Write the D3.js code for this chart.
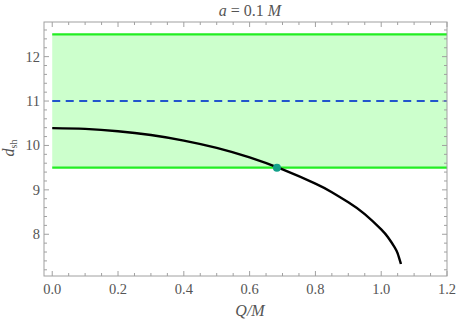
<!DOCTYPE html>
<html><head><meta charset="utf-8">
<script src="https://cdn.jsdelivr.net/npm/d3@7"></script>
<style>body{margin:0;background:#fff}svg{display:block}</style>
</head><body>
<script>
const qValues = [0, 0.1, 0.2, 0.3, 0.4, 0.5, 0.6, 0.7, 0.8, 0.85, 0.9, 0.95, 1.0, 1.02, 1.04, 1.05, 1.06];
const dValues = [10.39, 10.373, 10.321, 10.234, 10.109, 9.944, 9.73, 9.46, 9.14, 8.947, 8.72, 8.455, 8.11, 7.937, 7.718, 7.569, 7.33];
const bandLow = 9.5, bandHigh = 12.5, dashedLevel = 11;
const bandQ = [0, 1.2];
const crossing = [0.683, 9.5];
const xTicks = [0, 0.2, 0.4, 0.6, 0.8, 1.0, 1.2];
const yTicks = [8, 9, 10, 11, 12];

const W = 458, H = 323;
const m = {l:44, r:11, t:22, b:47};
const FONT = "'Liberation Serif', 'Times New Roman', serif";
const svg = d3.select("body").append("svg").attr("width", W).attr("height", H);
const x = d3.scaleLinear().domain([-0.025, 1.2]).range([m.l, W - m.r]);
const y = d3.scaleLinear().domain([7.06, 12.78]).range([H - m.b, m.t]);

svg.append("rect").attr("x", x(bandQ[0])).attr("y", y(bandHigh))
  .attr("width", x(bandQ[1]) - x(bandQ[0])).attr("height", y(bandLow) - y(bandHigh))
  .attr("fill", "#ccffcc");
[bandLow, bandHigh].forEach(v => svg.append("line")
  .attr("x1", x(bandQ[0])).attr("x2", x(bandQ[1])).attr("y1", y(v)).attr("y2", y(v))
  .attr("stroke", "#22ee22").attr("stroke-width", 2.2));
svg.append("line").attr("x1", x(bandQ[0])).attr("x2", x(bandQ[1]))
  .attr("y1", y(dashedLevel)).attr("y2", y(dashedLevel))
  .attr("stroke", "#2255cc").attr("stroke-width", 2).attr("stroke-dasharray", "8,5.5");

const pts = qValues.map((q, i) => [q, dValues[i]]);
svg.append("path").datum(pts)
  .attr("d", d3.line().x(d => x(d[0])).y(d => y(d[1])).curve(d3.curveNatural))
  .attr("fill", "none").attr("stroke", "#000").attr("stroke-width", 2.4);
svg.append("circle").attr("cx", x(crossing[0])).attr("cy", y(crossing[1])).attr("r", 4)
  .attr("fill", "#12a08a");

const fc = "#a0a0a0";
svg.append("rect").attr("x", m.l).attr("y", m.t).attr("width", W - m.r - m.l).attr("height", H - m.b - m.t)
  .attr("fill", "none").attr("stroke", fc).attr("stroke-width", 1);
const g = svg.append("g").attr("stroke", fc).attr("stroke-width", 1);
d3.range(0, 1.2001, 0.05).forEach(v => {
  const major = Math.abs(v / 0.2 - Math.round(v / 0.2)) < 1e-6;
  const L = major ? 5 : 3;
  g.append("line").attr("x1", x(v)).attr("x2", x(v)).attr("y1", H - m.b).attr("y2", H - m.b - L);
  g.append("line").attr("x1", x(v)).attr("x2", x(v)).attr("y1", m.t).attr("y2", m.t + L);
});
d3.range(7.2, 12.7, 0.2).forEach(v => {
  const major = Math.abs(v - Math.round(v)) < 1e-6;
  const L = major ? 5 : 3;
  g.append("line").attr("x1", m.l).attr("x2", m.l + L).attr("y1", y(v)).attr("y2", y(v));
  g.append("line").attr("x1", W - m.r).attr("x2", W - m.r - L).attr("y1", y(v)).attr("y2", y(v));
});

const tc = "#555";
svg.append("g").selectAll("text").data(xTicks).join("text")
  .attr("x", d => x(d)).attr("y", H - m.b + 18).attr("text-anchor", "middle")
  .style("font-family", FONT).attr("font-size", 14.5).attr("fill", tc)
  .text(d => d.toFixed(1));
svg.append("g").selectAll("text").data(yTicks).join("text")
  .attr("x", m.l - 4).attr("y", d => y(d) + 5).attr("text-anchor", "end")
  .style("font-family", FONT).attr("font-size", 14.5).attr("fill", tc)
  .text(d => d);

const title = svg.append("text").attr("x", 250).attr("y", 16).attr("text-anchor", "middle")
  .style("font-family", FONT).attr("font-size", 16).attr("fill", tc);
title.append("tspan").attr("font-style", "italic").text("a");
title.append("tspan").text(" = 0.1 ");
title.append("tspan").attr("font-style", "italic").text("M");

svg.append("text").attr("x", 250).attr("y", 316).attr("text-anchor", "middle")
  .style("font-family", FONT).attr("font-size", 16).attr("fill", tc)
  .attr("font-style", "italic").text("Q/M");

const yl = svg.append("text").attr("transform", "translate(14,148) rotate(-90)")
  .style("font-family", FONT).attr("text-anchor", "middle").attr("font-size", 16).attr("fill", tc);
yl.append("tspan").attr("font-style", "italic").text("d");
yl.append("tspan").attr("font-size", 10).attr("dy", 3).text("sh");
</script>
</body></html>
